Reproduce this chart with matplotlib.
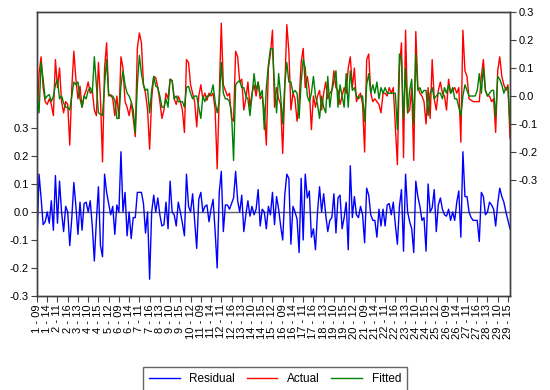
import matplotlib
matplotlib.use("Agg")
import matplotlib.pyplot as plt
import matplotlib.ticker as mticker

plt.rcParams["font.family"] = ["Liberation Sans", "DejaVu Sans"]

# observation labels: "periode - dag", one tick per 5 observations
first_num = [1, 1, 2, 2, 3, 4, 4, 5, 6, 6, 7, 7, 8, 9, 9, 10, 11, 11, 12, 12, 13, 14, 14, 15,
             16, 16, 17, 17, 18, 19, 19, 20, 21, 21, 22, 22, 23, 24, 24, 25, 26, 26, 27, 27,
             28, 29, 29]
second_num = ["09", "14", "11", "16", "13", "10", "15", "12"] * 5 + \
             ["09", "14", "11", "16", "13", "10", "15"]
tick_labels = [f"{a} - {b}" for a, b in zip(first_num, second_num)]

# residual (left axis)
residual = [
    -0.11, 0.135, 0.05, -0.045, -0.035, 0.0, -0.04, 0.04, -0.065, 0.13,
    -0.04, 0.11, 0.0, -0.07, 0.02, 0.0, -0.12, -0.02, 0.105, 0.02,
    -0.08, 0.035, -0.065, 0.03, 0.035, 0.0, 0.04, -0.05, -0.175, -0.03,
    0.09, -0.12, -0.16, 0.135, 0.07, 0.03, -0.01, 0.02, -0.08, 0.025,
    0.0, 0.215, 0.0, 0.07, -0.085, 0.0, -0.095, -0.02, -0.02, 0.07,
    0.07, 0.07, 0.03, -0.075, 0.0, -0.24, 0.0, 0.06, 0.0, 0.05,
    -0.01, -0.05, -0.045, 0.035, -0.06, 0.11, 0.0, -0.01, -0.05, 0.035,
    0.0, -0.04, -0.085, 0.135, 0.02, 0.0, 0.065, -0.03, -0.13, 0.045,
    0.07, 0.0, 0.02, 0.025, -0.035, 0.01, 0.045, -0.07, -0.2, 0.07,
    0.145, -0.07, 0.025, 0.025, 0.01, 0.03, 0.05, 0.145, 0.04, 0.0,
    0.06, -0.07, -0.01, 0.04, -0.015, 0.02, -0.01, 0.01, 0.08, -0.05,
    0.01, 0.0, -0.06, 0.02, -0.01, 0.07, -0.045, 0.055, 0.01, -0.05,
    -0.10, 0.06, 0.135, 0.12, -0.115, 0.02, 0.0, -0.025, -0.145, 0.12,
    -0.1, 0.135, 0.05, 0.075, -0.09, -0.06, -0.135, 0.0, 0.09, 0.0,
    0.065, -0.01, -0.07, -0.03, -0.02, 0.065, -0.075, 0.05, 0.06, -0.06,
    -0.02, 0.035, -0.135, 0.165, -0.02, 0.055, -0.01, -0.02, 0.02, -0.01,
    -0.11, 0.085, 0.06, -0.01, -0.03, -0.03, -0.09, 0.01, -0.05, 0.01,
    -0.05, 0.025, 0.03, -0.01, 0.035, -0.045, -0.115, 0.02, 0.08, -0.14,
    0.135, 0.0, -0.035, -0.06, -0.145, 0.11, 0.055, 0.02, -0.03, -0.02,
    -0.14, 0.1, 0.0, 0.015, 0.08, -0.07, 0.025, 0.05, 0.01, -0.01,
    -0.015, 0.01, -0.03, 0.0, -0.03, 0.035, 0.075, -0.09, 0.215, 0.055,
    0.055, 0.0, -0.02, -0.03, -0.03, -0.03, -0.105, 0.07, 0.055, -0.01,
    0.0, 0.035, 0.025, 0.01, -0.05, 0.03, 0.085, 0.055, 0.035, 0.0,
    -0.03, -0.06,
]

# actual (right axis)
actual = [
    -0.10, 0.08, 0.14, 0.03, -0.02, -0.03, -0.01, -0.03, -0.07, 0.13,
    0.03, 0.10, -0.02, -0.06, -0.02, -0.03, -0.175, 0.03, 0.16, 0.06,
    -0.01, 0.035, -0.04, 0.0, 0.02, 0.05, 0.01, 0.02, -0.05, -0.07,
    0.12, -0.01, -0.235, 0.10, 0.19, 0.0, 0.005, -0.01, -0.07, 0.0,
    -0.08, 0.14, 0.10, -0.02, -0.04, -0.07, -0.025, -0.08, -0.145, 0.17,
    0.225, 0.19, 0.04, 0.01, -0.05, -0.19, -0.01, 0.07, 0.065, 0.03,
    -0.02, -0.08, -0.05, 0.01, -0.01, 0.06, 0.055, -0.01, -0.03, 0.0,
    -0.02, -0.05, -0.13, 0.13, 0.12, 0.04, 0.01, -0.02, -0.11, 0.0,
    0.04, -0.01, 0.01, -0.015, 0.01, 0.0, 0.01, -0.05, -0.26, 0.0,
    0.26, 0.04, 0.02, 0.0, 0.01, -0.08, -0.09, 0.16, 0.14, 0.05,
    0.06, -0.05, -0.01, 0.05, -0.04, 0.01, 0.04, 0.0, 0.05, -0.01,
    0.0, -0.05, -0.175, 0.10, 0.15, 0.235, -0.04, 0.03, -0.01, -0.03,
    -0.205, 0.03, 0.255, 0.16, -0.05, 0.01, -0.01, -0.09, -0.02, 0.12,
    0.17, 0.03, 0.07, 0.02, -0.12, 0.0, -0.04, 0.0, 0.02, -0.05,
    0.01, 0.05, -0.01, 0.01, 0.02, 0.09, 0.03, 0.02, -0.03, 0.0,
    0.03, 0.01, 0.10, 0.14, 0.03, 0.10, -0.02, 0.0, 0.01, -0.03,
    -0.20, 0.13, 0.15, 0.01, -0.02, -0.01, -0.02, -0.03, -0.06, 0.01,
    0.01, 0.0, 0.03, 0.01, 0.03, -0.11, -0.245, 0.10, 0.19, -0.22,
    0.235, -0.06, -0.05, 0.03, -0.23, 0.23, 0.03, 0.01, 0.0, -0.02,
    -0.10, 0.03, -0.08, 0.13, -0.01, -0.05, 0.02, 0.05, 0.01, 0.0,
    -0.05, 0.06, 0.01, 0.02, 0.03, 0.01, 0.03, -0.165, 0.235, 0.09,
    0.07, -0.01, -0.015, -0.02, -0.02, -0.02, -0.02, 0.07, 0.13, 0.02,
    0.0, 0.0, -0.02, -0.01, -0.13, 0.09, 0.14, 0.07, 0.04, 0.02,
    0.04, -0.15,
]

# fitted (right axis)
fitted = [
    0.0, -0.06, 0.12, 0.06, -0.01, 0.0, 0.005, -0.02, 0.0, 0.04,
    0.06, -0.01, 0.0, -0.025, -0.04, -0.04, -0.05, 0.0, 0.05, 0.04,
    0.05, -0.01, -0.04, 0.0, -0.01, 0.02, 0.03, 0.01, 0.14, 0.04,
    -0.06, -0.065, -0.07, 0.04, 0.13, 0.005, 0.0, 0.0, -0.015, -0.08,
    -0.08, 0.04, 0.09, 0.04, 0.01, 0.0, -0.02, -0.05, -0.13, 0.04,
    0.145, 0.08, 0.04, 0.02, 0.025, -0.06, 0.02, 0.07, 0.035, 0.03,
    0.0, -0.04, -0.04, -0.01, -0.04, 0.06, 0.055, -0.01, 0.0, -0.02,
    -0.02, -0.02, -0.04, 0.03, 0.035, 0.01, -0.01, 0.0, 0.0, -0.04,
    -0.08, 0.0, -0.02, 0.0, 0.0, 0.01, 0.04, -0.02, -0.06, -0.02,
    0.12, 0.01, -0.01, -0.01, -0.02, -0.06, -0.23, 0.04, 0.05, 0.055,
    0.03, 0.03, 0.0, -0.01, -0.07, 0.0, 0.08, 0.02, 0.05, 0.0,
    0.02, -0.12, 0.03, 0.11, 0.17, 0.17, 0.04, -0.06, 0.08, 0.0,
    -0.10, 0.04, 0.12, 0.05, 0.05, 0.01, 0.02, 0.01, -0.08, 0.05,
    0.13, 0.10, 0.0, -0.02, 0.01, 0.07, 0.0, -0.03, -0.08, 0.0,
    -0.04, -0.06, 0.07, -0.04, 0.02, 0.05, 0.09, -0.04, 0.04, 0.0,
    -0.04, 0.08, -0.04, 0.09, 0.02, 0.03, 0.0, -0.01, 0.0, 0.0,
    -0.09, 0.04, 0.08, 0.01, 0.04, 0.01, 0.05, -0.01, 0.03, 0.01,
    0.03, 0.01, 0.01, 0.01, 0.01, 0.01, -0.12, 0.15, 0.13, -0.08,
    0.10, -0.06, 0.02, 0.06, -0.10, 0.15, 0.02, 0.03, 0.01, 0.02,
    0.02, -0.07, 0.01, 0.03, -0.01, 0.0, 0.01, 0.01, -0.01, 0.03,
    0.01, 0.04, 0.01, 0.03, -0.01, -0.01, -0.04, -0.07, 0.0, 0.04,
    0.02, 0.0, 0.0, 0.0, 0.0, 0.02, 0.08, 0.01, 0.10, 0.02,
    0.0, 0.01, 0.02, 0.02, -0.075, 0.07, 0.06, 0.04, 0.01, 0.03,
    0.03, -0.10,
]

obs = list(range(len(residual)))

fig = plt.figure(figsize=(5.5, 3.9), dpi=100)
ax = fig.add_axes([37 / 550, 1 - 296 / 390, 473 / 550, 284 / 390])
ax2 = ax.twinx()

frame = "#404040"
for a in (ax, ax2):
    for sp in a.spines.values():
        sp.set_color(frame)
        sp.set_linewidth(1.0)

# venstre akse: residual
ax.axhline(0, color="#606060", linewidth=1.0, zorder=1)
l_res, = ax.plot(obs, residual, color="#0000FF", linewidth=1.0, label="Residual", zorder=2)
ax.set_ylim(-0.3, 0.714)
ax.set_yticks([-0.3, -0.2, -0.1, 0.0, 0.1, 0.2, 0.3])
ax.yaxis.set_major_formatter(mticker.FormatStrFormatter("%.1f"))

# højre akse: actual / fitted
l_act, = ax2.plot(obs, actual, color="#FF0000", linewidth=1.0, label="Actual")
l_fit, = ax2.plot(obs, fitted, color="#008000", linewidth=1.0, label="Fitted")
ax2.set_ylim(-0.714, 0.3)
ax2.set_yticks([-0.3, -0.2, -0.1, 0.0, 0.1, 0.2, 0.3])
ax2.yaxis.set_major_formatter(mticker.FormatStrFormatter("%.1f"))

ax.set_xlim(0, len(obs) - 1)
ax.set_xticks(list(range(0, 5 * len(tick_labels), 5)))
ax.set_xticklabels(tick_labels, rotation=90)

for a in (ax, ax2):
    a.tick_params(direction="out", length=4, width=0.8, color=frame,
                  labelsize=8, labelcolor="black", pad=2)

fig.legend(handles=[l_res, l_act, l_fit], loc="upper center",
           bbox_to_anchor=(0.5, 1 - 361 / 390), ncol=3, fontsize=8.5,
           frameon=True, fancybox=False, edgecolor="#404040",
           handlelength=2.6, columnspacing=1.0, borderpad=0.5)

fig.savefig("out.png", dpi=100)
